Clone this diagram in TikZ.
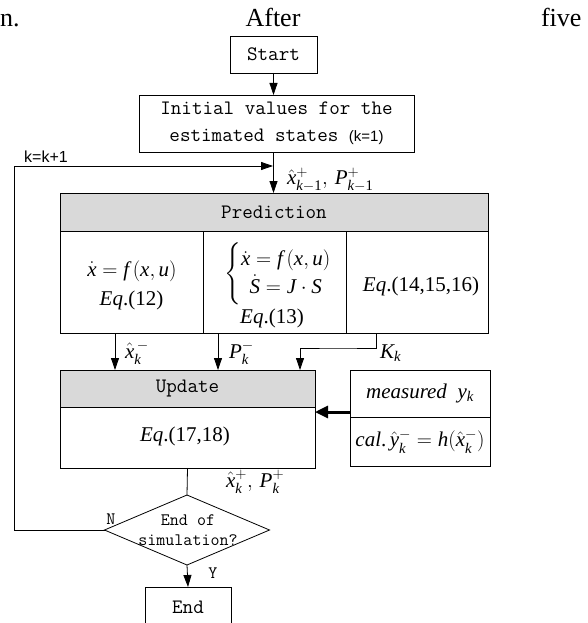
\RequirePackage{fix-cm}
\documentclass[tikz,border=0pt]{standalone}
\usepackage{amsmath}
\usepackage{mathspec}
\setmainfont{Liberation Serif}
\setmathsfont(Digits,Latin){Liberation Serif}
\setmathrm{Liberation Serif}
\newfontfamily\arialf{Liberation Sans}
\usetikzlibrary{arrows.meta,shapes.geometric}
\definecolor{hdrgray}{RGB}{217,217,217}
\begin{document}
\begin{tikzpicture}[x=1pt,y=-1pt,
  every node/.style={inner sep=0pt, outer sep=0pt},
  line/.style={draw=black, line width=0.8pt},
  box/.style={draw=black, line width=0.8pt, rectangle, fill=white},
  hdr/.style={box, fill=hdrgray},
  mono/.style={font=\fontsize{20.5}{27}\selectfont\ttfamily},
  smono/.style={font=\fontsize{17.5}{20}\selectfont\ttfamily},
  mtext/.style={font=\fontsize{21}{25}\selectfont},
  toptext/.style={font=\fontsize{26}{30}\selectfont},
  arr/.style={line, -{Triangle[length=12pt,width=8pt]}},
  thickarr/.style={draw=black, line width=3pt, -{Triangle[length=13pt,width=12pt]}}
  ]
\useasboundingbox (0,0) rectangle (587,623);
\clip (0,0) rectangle (587,623);

% running text of the page
\node[toptext, anchor=base west] (t1) at (0,27) {n.};
\node[toptext, anchor=base] (t2) at (273,27) {After};
\node[toptext, anchor=base west] (t3) at (541,27) {five};

% boxes
\node[box, mono, minimum width=87pt, minimum height=37pt] (start) at (273.5,54.5) {Start};
\node[box, mono, minimum width=275pt, minimum height=57pt, align=center] (init) at (276.5,123.5)
  {Initial values for the\\estimated states {\arialf\fontsize{15}{15}\selectfont(k=1)}};

\node[hdr, mono, minimum width=428pt, minimum height=38pt] (pred) at (274,212) {Prediction};
\node[box, minimum width=143pt, minimum height=102pt] (c1) at (131.5,282) {};
\node[box, minimum width=143pt, minimum height=102pt] (c2) at (274.5,282) {};
\node[box, minimum width=142pt, minimum height=102pt] (c3) at (417,282) {};

\node[mtext] (eqa) at (132,271) {$\dot{x}=f\,(x,u)$};
\node[mtext] (eqb) at (131.5,300) {\textit{Eq}.(12)};
\node[mtext] (eqc) at (278,274) {\renewcommand{\arraystretch}{1.1}$\left\{\begin{array}{@{}c@{}}\dot{x}=f\,(x,u)\\ \dot{S}=J\cdot S\end{array}\right.$};
\node[mtext] (eqd) at (272,318) {\textit{Eq}.(13)};
\node[mtext] (eqe) at (421,286) {\textit{Eq}.(14,15,16)};

\node[hdr, mono, minimum width=255pt, minimum height=37pt] (upd) at (187.5,388.5) {Update};
\node[box, minimum width=255pt, minimum height=61pt] (updb) at (187.5,437.5) {};
\node[mtext] (eqf) at (185,436) {\textit{Eq}.(17,18)};

\node[box, mtext, minimum width=140pt, minimum height=47pt] (meas) at (420,393.5) {\textit{measured}\ \ $y_k$};
\node[box, mtext, minimum width=140pt, minimum height=49pt] (cal) at (420,441.5) {\textit{cal}.\,$\hat{y}_k^-=h(\hat{x}_k^-)$};

\node[diamond, draw=black, line width=0.8pt, fill=white, minimum width=165pt, minimum height=70pt] (dec) at (187,530) {};
\node[smono, align=center] (dectext) at (188,530) {End of\\simulation?};

\node[box, mono, minimum width=86pt, minimum height=40pt] (endn) at (188,607) {End};

% labels
\node[font=\arialf\fontsize{16}{16}\selectfont] (kk) at (46,157) {k=k+1};
\node[mtext, anchor=west] (lab1) at (287,180) {$\hat{x}^+_{k-1},\,P^+_{k-1}$};
\node[mtext, anchor=west] (lab2) at (125,353) {$\hat{x}_k^{\,-}$};
\node[mtext, anchor=west] (lab3) at (229,353) {$P_k^-$};
\node[mtext, anchor=west] (lab4) at (380,353) {$K_k$};
\node[mtext, anchor=west] (lab5) at (226,482) {$\hat{x}_k^+,\,P_k^+$};
\node[smono] (nlab) at (111,519) {N};
\node[smono] (ylab) at (213,573) {Y};

% helper coordinates
\coordinate (xa) at (115,0);
\coordinate (xb) at (218,0);
\coordinate (xk) at (376,0);
\coordinate (xk2) at (300,0);
\coordinate (kmid) at (338,348);
\coordinate (lcorner) at (14,166);
\coordinate (lp) at (273,166);
\coordinate (ta) at ([yshift=5pt]meas.south west);

% connectors
\draw[arr] (start.south) -- (start.south |- init.north);
\draw[arr] (start.south |- init.south) -- (start.south |- pred.north);
\draw[arr] (dec.west) -| (lcorner) -- (lp);
\draw[arr] (c1.south -| xa) -- (upd.north -| xa);
\draw[arr] (c2.south -| xb) -- (upd.north -| xb);
\draw[arr] (c3.south -| xk) |- (kmid) -| (upd.north -| xk2);
\draw[thickarr] (ta) -- (ta -| updb.east);
\draw[line] (updb.south) -- (dec.north);
\draw[arr] (dec.south) -- (endn.north);
\end{tikzpicture}
\end{document}
